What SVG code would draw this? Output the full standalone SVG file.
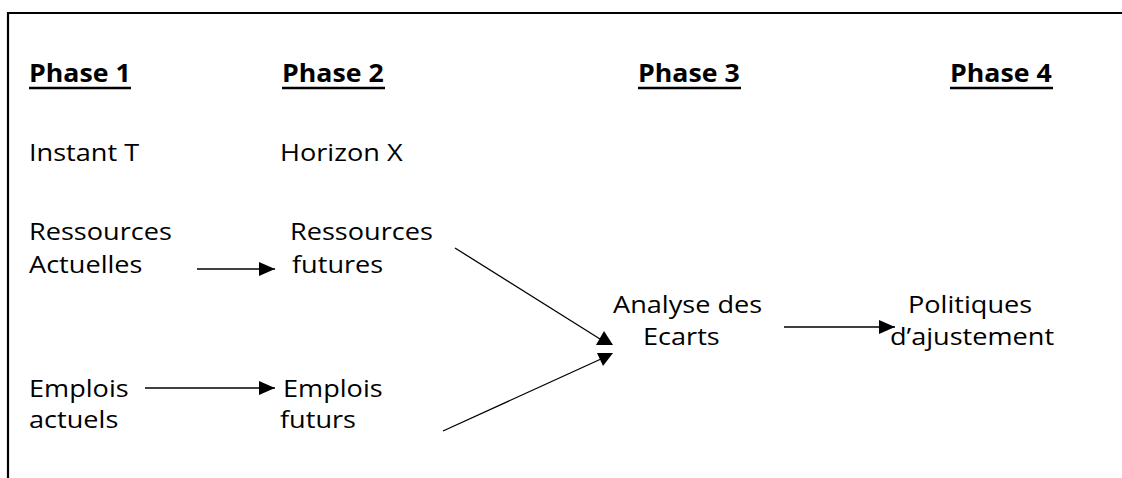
<svg xmlns="http://www.w3.org/2000/svg" width="1122" height="478" viewBox="0 0 1122 478">
<style>
.t{font-family:"Open Sans","Noto Sans","Liberation Sans",sans-serif;font-size:24px;fill:#000}
.h{font-family:"Open Sans","Noto Sans","Liberation Sans",sans-serif;font-size:24.5px;font-weight:bold;fill:#000}
.u{stroke:#000;stroke-width:2.4}
.c{stroke:#000;stroke-width:1.3;fill:none}
.ah{fill:#000}
</style>
<defs>
<marker id="arr" markerWidth="16" markerHeight="14" refX="16" refY="7" orient="auto" markerUnits="userSpaceOnUse">
<path d="M0,0 L16,7 L0,14 Z" fill="#000"/>
</marker>
</defs>
<rect width="1122" height="478" fill="#fff"/>
<path d="M8,478 V13 H1122" fill="none" stroke="#000" stroke-width="2.2"/>
<g id="phase1">
<text class="h" transform="matrix(1.09 0 0 1 29 82)">Phase 1</text>
<line class="u" x1="29" y1="88" x2="131" y2="88"/>
</g>
<g id="phase2">
<text class="h" transform="matrix(1.09 0 0 1 282 82)">Phase 2</text>
<line class="u" x1="282" y1="88" x2="385" y2="88"/>
</g>
<g id="phase3">
<text class="h" transform="matrix(1.09 0 0 1 638 82)">Phase 3</text>
<line class="u" x1="638" y1="88" x2="741" y2="88"/>
</g>
<g id="phase4">
<text class="h" transform="matrix(1.09 0 0 1 950 82)">Phase 4</text>
<line class="u" x1="950" y1="88" x2="1053" y2="88"/>
</g>
<g id="instant"><text class="t" transform="matrix(1.13 0 0 1 29 161)">Instant T</text></g>
<g id="horizon"><text class="t" transform="matrix(1.13 0 0 1 280 161)">Horizon X</text></g>
<g id="ress-actuelles"><text class="t" transform="matrix(1.13 0 0 1 29 240)">Ressources</text><text class="t" transform="matrix(1.13 0 0 1 29 273)">Actuelles</text></g>
<g id="ress-futures"><text class="t" transform="matrix(1.13 0 0 1 290 240)">Ressources</text><text class="t" transform="matrix(1.13 0 0 1 292 273)">futures</text></g>
<g id="emplois-actuels"><text class="t" transform="matrix(1.13 0 0 1 29 397)">Emplois</text><text class="t" transform="matrix(1.13 0 0 1 29 428)">actuels</text></g>
<g id="emplois-futurs"><text class="t" transform="matrix(1.13 0 0 1 283 397)">Emplois</text><text class="t" transform="matrix(1.13 0 0 1 280 428)">futurs</text></g>
<g id="analyse"><text class="t" transform="matrix(1.13 0 0 1 613 313)">Analyse des</text><text class="t" transform="matrix(1.13 0 0 1 643 345)">Ecarts</text></g>
<g id="politiques"><text class="t" transform="matrix(1.13 0 0 1 908 313)">Politiques</text><text class="t" transform="matrix(1.13 0 0 1 890 345)">d’ajustement</text></g>
<g id="connectors">
<line class="c" x1="197" y1="269" x2="275" y2="269" marker-end="url(#arr)"/>
<line class="c" x1="145" y1="388" x2="275" y2="388" marker-end="url(#arr)"/>
<line class="c" x1="784" y1="327" x2="895" y2="327" marker-end="url(#arr)"/>
<line class="c" x1="455" y1="248" x2="600" y2="339"/>
<polygon class="ah" points="604,331 613,345 596,345"/>
<line class="c" x1="443" y1="431" x2="601" y2="359"/>
<polygon class="ah" points="597,353 613,353 603,366"/>
</g>
</svg>
